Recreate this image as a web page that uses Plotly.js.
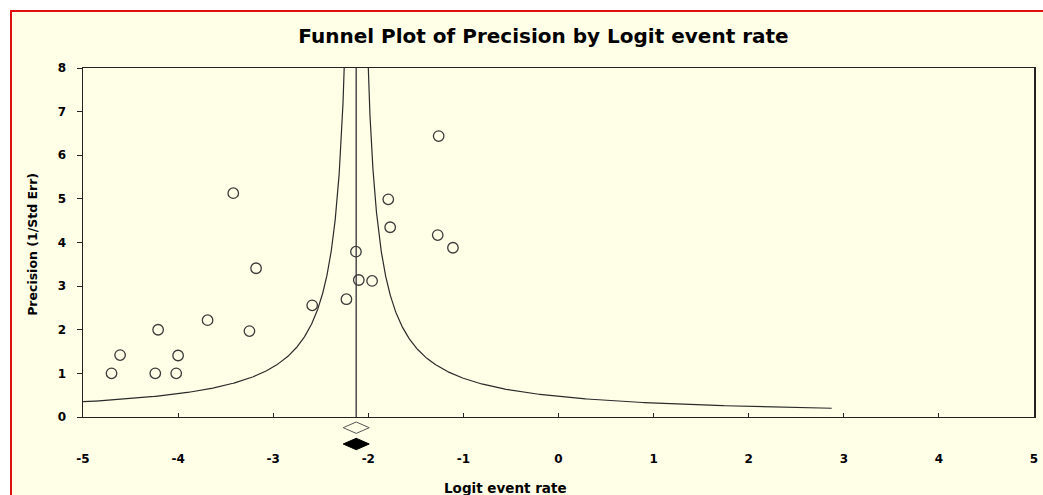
<!DOCTYPE html>
<html>
<head>
<meta charset="utf-8">
<script src="https://cdn.plot.ly/plotly-3.0.1.min.js"></script>
<style>
  html, body { margin: 0; padding: 0; background: #ffffff; }
  #frame {
    position: absolute; left: 10px; top: 10px;
    width: 1031px; height: 483px;
    border-top: 2px solid #e01010; border-left: 2px solid #e01010;
    background: #FFFFE8;
  }
</style>
</head>
<body>
<div id="frame"><div id="chart"></div></div>
<script>
// ---- Data ----
const studyLogit = [-4.70, -4.61, -4.21, -4.24, -4.02, -4.00, -3.69, -3.42, -3.18, -3.25,
                    -2.59, -2.23, -2.13, -2.10, -1.96, -1.79, -1.77, -1.26, -1.27, -1.11];
const studyPrecision = [1.00, 1.42, 2.00, 1.00, 1.00, 1.41, 2.22, 5.13, 3.41, 1.97,
                        2.56, 2.70, 3.79, 3.14, 3.12, 4.99, 4.35, 6.44, 4.17, 3.88];

// pooled estimate (observed and adjusted) with confidence limits
const summaryLabels = ['Observed', 'Adjusted'];
const summaryMean  = [-2.127, -2.127];
const summaryLower = [-2.264, -2.264];
const summaryUpper = [-1.990, -1.990];
const summaryRow   = [2, 1];

// funnel limits: pooled mean +/- funnelWidth / precision
const funnelCentre = -2.127;
const funnelWidth = 1.0;
const funnelPrecisionMin = 0.2;
const funnelPrecisionMax = 9;

const xTickVals = [-5, -4, -3, -2, -1, 0, 1, 2, 3, 4, 5];
const yTickVals = [0, 1, 2, 3, 4, 5, 6, 7, 8];

// ---- Build curve samples along precision ----
const precLevels = [];
for (let i = 0; i <= 600; i++) {
  const t = i / 600;
  precLevels.push(funnelPrecisionMin * Math.pow(funnelPrecisionMax / funnelPrecisionMin, t));
}
const leftX = precLevels.map(p => funnelCentre - funnelWidth / p);
const rightX = precLevels.map(p => funnelCentre + funnelWidth / p);

const lineCol = '#2a2a2a';
const diamondHalfHeight = 0.35;

const traces = [
  { x: leftX, y: precLevels, mode: 'lines', line: {color: lineCol, width: 1.2}, xaxis: 'x', yaxis: 'y' },
  { x: rightX, y: precLevels, mode: 'lines', line: {color: lineCol, width: 1.2}, xaxis: 'x', yaxis: 'y' },
  { x: [funnelCentre, funnelCentre], y: [0, 8], mode: 'lines', line: {color: '#555555', width: 1.6}, xaxis: 'x', yaxis: 'y' },
  { x: studyLogit, y: studyPrecision, mode: 'markers',
    marker: {symbol: 'circle-open', size: 10.5, color: '#3a3a3a', line: {width: 1.3, color: '#3a3a3a'}},
    xaxis: 'x', yaxis: 'y', cliponaxis: false }
];

summaryLabels.forEach((lab, i) => {
  const v = summaryRow[i];
  const h = diamondHalfHeight;
  const filled = (lab === 'Adjusted');
  traces.push({
    x: [summaryLower[i], summaryMean[i], summaryUpper[i], summaryMean[i], summaryLower[i]],
    y: [v, v + h, v, v - h, v],
    mode: 'lines', fill: 'toself',
    fillcolor: filled ? '#000000' : '#FFFFE8',
    line: {color: filled ? '#000000' : '#555555', width: 1},
    xaxis: 'x', yaxis: 'y2', name: lab
  });
});

const FAM = 'DejaVu Sans, Verdana, sans-serif';
const bold = {family: FAM, size: 12, color: '#000000', weight: 'bold'};

const layout = {
  width: 1031, height: 483,
  paper_bgcolor: '#FFFFE8', plot_bgcolor: '#FFFFE8',
  margin: {l: 71, r: 9, t: 56, b: 40},
  showlegend: false,
  hovermode: false,
  title: {
    text: 'Funnel Plot of Precision by Logit event rate',
    x: 0.5155, xanchor: 'center', y: 0.950, yanchor: 'middle',
    font: {family: FAM, size: 20, color: '#000000', weight: 'bold'}
  },
  xaxis: {
    range: [-5, 5], anchor: 'y',
    tickvals: xTickVals, ticktext: xTickVals.map(String),
    ticks: 'inside', ticklen: 4, tickwidth: 1, tickcolor: '#222',
    showline: true, linecolor: '#222', linewidth: 1.5, mirror: true,
    showgrid: false, zeroline: false,
    tickfont: bold, ticklabelstandoff: 30
  },
  yaxis: {
    range: [0, 8], domain: [0.0982, 1], anchor: 'x',
    tickvals: yTickVals, ticktext: yTickVals.map(String),
    ticks: 'outside', ticklen: 5, tickwidth: 1, tickcolor: '#222',
    showline: true, linecolor: '#222', linewidth: 1.5, mirror: true,
    showgrid: false, zeroline: false,
    tickfont: bold, ticklabelstandoff: 8
  },
  yaxis2: {
    range: [0.325, 2.656], domain: [0, 0.0982], anchor: 'x',
    visible: false, showgrid: false, zeroline: false
  },
  annotations: [
    { text: 'Precision (1/Std Err)', xref: 'paper', yref: 'paper', x: -0.0539, y: 0.545,
      xanchor: 'center', yanchor: 'middle', textangle: -90, showarrow: false,
      font: {family: FAM, size: 12.5, color: '#000', weight: 'bold'} },
    { text: 'Logit event rate', xref: 'paper', yref: 'paper', x: 0.4443, y: -0.0845,
      xanchor: 'center', yanchor: 'middle', showarrow: false,
      font: {family: FAM, size: 13.5, color: '#000', weight: 'bold'} }
  ]
};

Plotly.newPlot('chart', traces, layout, {displayModeBar: false, staticPlot: true});
</script>
</body>
</html>
